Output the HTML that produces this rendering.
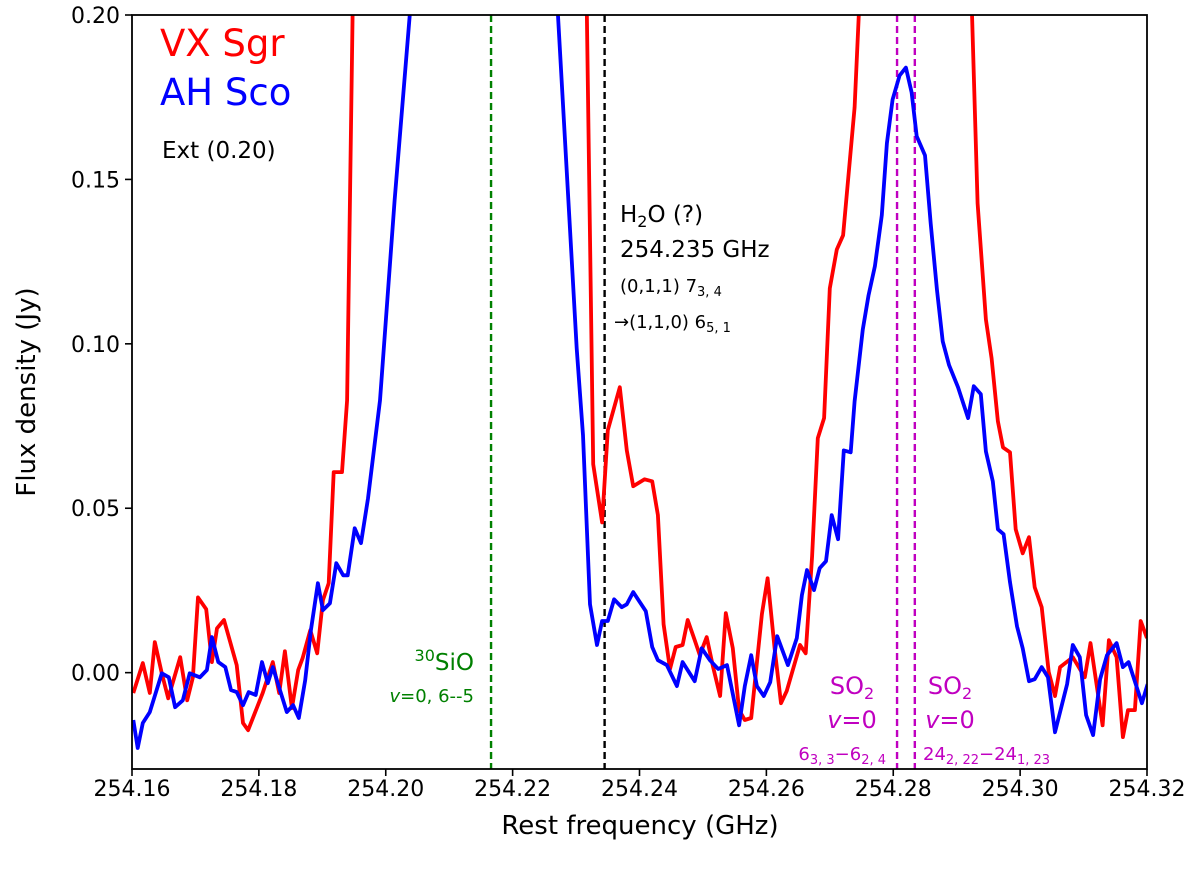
<!DOCTYPE html>
<html><head><meta charset="utf-8"><style>
body{margin:0;background:#fff}
svg{display:block;font-family:"DejaVu Sans","Liberation Sans",sans-serif}
</style></head><body>
<svg id="chart" width="1200" height="869" viewBox="0 0 1200 869" xmlns="http://www.w3.org/2000/svg">
<defs><clipPath id="pc"><rect x="132" y="15" width="1015" height="754"/></clipPath></defs>
<g id="plot" clip-path="url(#pc)"></g>
<rect x="132" y="15" width="1015" height="754" fill="none" stroke="#000" stroke-width="1.8"/>
<g id="axes"></g>
<text x="160" y="56" font-size="37" fill="#ff0000">VX Sgr</text>
<text x="160" y="105" font-size="37" fill="#0000ff">AH Sco</text>
<text x="162" y="158" font-size="23" fill="#000">Ext (0.20)</text>
<g fill="#000">
<text x="620" y="222" font-size="23">H<tspan font-size="16" dy="5">2</tspan><tspan dy="-5">O (?)</tspan></text>
<text x="620" y="257" font-size="23">254.235 GHz</text>
<text x="620" y="292" font-size="18">(0,1,1) 7<tspan font-size="13" dy="4">3, 4</tspan></text>
<text x="614" y="328" font-size="18">→(1,1,0) 6<tspan font-size="13" dy="4">5, 1</tspan></text>
</g>
<g fill="#008000">
<text x="474" y="670" font-size="23" text-anchor="end"><tspan font-size="16" dy="-9">30</tspan><tspan dy="9">SiO</tspan></text>
<text x="474" y="702" font-size="18" text-anchor="end"><tspan font-style="italic">v</tspan>=0, 6--5</text>
</g>
<g fill="#c000c0">
<text x="852" y="694" font-size="24" text-anchor="middle">SO<tspan font-size="16" dy="5">2</tspan></text>
<text x="852" y="728" font-size="24" text-anchor="middle"><tspan font-style="italic">v</tspan>=0</text>
<text x="886" y="760" font-size="18" text-anchor="end">6<tspan font-size="13" dy="4">3, 3</tspan><tspan dy="-4">−6</tspan><tspan font-size="13" dy="4">2, 4</tspan></text>
</g>
<g fill="#c000c0">
<text x="950" y="694" font-size="24" text-anchor="middle">SO<tspan font-size="16" dy="5">2</tspan></text>
<text x="950" y="728" font-size="24" text-anchor="middle"><tspan font-style="italic">v</tspan>=0</text>
<text x="923" y="760" font-size="18">24<tspan font-size="13" dy="4">2, 22</tspan><tspan dy="-4">−24</tspan><tspan font-size="13" dy="4">1, 23</tspan></text>
</g>
<text x="640" y="834" font-size="26" text-anchor="middle">Rest frequency (GHz)</text>
<text transform="translate(35,392) rotate(-90)" font-size="26" text-anchor="middle">Flux density (Jy)</text>
</svg>
<script>
const vxFreq=[254.1602,254.1617,254.1628,254.1636,254.1647,254.1657,254.1676,254.1687,254.1696,254.1704,254.1717,254.1726,254.1734,254.1745,254.1765,254.1775,254.1783,254.1806,254.1822,254.1832,254.1841,254.1852,254.1862,254.1869,254.1881,254.1892,254.1901,254.1910,254.1918,254.1931,254.1939,254.1950,254.2100,254.2317,254.2327,254.2341,254.2350,254.2369,254.2380,254.2390,254.2408,254.2420,254.2429,254.2438,254.2448,254.2457,254.2468,254.2476,254.2487,254.2495,254.2506,254.2516,254.2527,254.2536,254.2547,254.2557,254.2566,254.2576,254.2593,254.2602,254.2613,254.2623,254.2632,254.2653,254.2662,254.2672,254.2681,254.2691,254.2700,254.2711,254.2721,254.2739,254.2746,254.2790,254.2924,254.2933,254.2946,254.2955,254.2965,254.2973,254.2984,254.2993,254.3004,254.3014,254.3023,254.3034,254.3045,254.3055,254.3063,254.3083,254.3102,254.3111,254.3130,254.3140,254.3152,254.3162,254.3170,254.3181,254.3190,254.3200];
const vxFlux=[-0.0062,0.0029,-0.0062,0.0093,-0.0002,-0.0078,0.0047,-0.0084,-0.0014,0.0229,0.0193,0.0032,0.0135,0.0160,0.0023,-0.0153,-0.0175,-0.0062,0.0032,-0.0062,0.0065,-0.0108,0.0008,0.0044,0.0129,0.0059,0.0220,0.0272,0.0610,0.0610,0.0828,0.2300,0.6,0.2014,0.0634,0.0457,0.0737,0.0868,0.0676,0.0567,0.0588,0.0582,0.0479,0.0147,0.0011,0.0078,0.0084,0.0160,0.0099,0.0053,0.0108,0.0017,-0.0071,0.0181,0.0074,-0.0114,-0.0144,-0.0138,0.0178,0.0287,0.0074,-0.0093,-0.0056,0.0084,0.0059,0.0354,0.0713,0.0774,0.1169,0.1287,0.1330,0.1719,0.2014,0.6,0.2014,0.1427,0.1074,0.0956,0.0764,0.0685,0.0670,0.0436,0.0363,0.0412,0.0260,0.0199,0.0002,-0.0071,0.0017,0.0047,-0.0014,0.0090,-0.0160,0.0099,0.0047,-0.0196,-0.0114,-0.0114,0.0157,0.0105];
const ahFreq=[254.1602,254.1609,254.1617,254.1628,254.1647,254.1658,254.1668,254.1680,254.1691,254.1707,254.1718,254.1726,254.1736,254.1747,254.1756,254.1765,254.1775,254.1784,254.1795,254.1805,254.1814,254.1822,254.1844,254.1854,254.1863,254.1873,254.1882,254.1893,254.1901,254.1912,254.1922,254.1933,254.1940,254.1951,254.1961,254.1972,254.1991,254.2014,254.2040,254.2150,254.2271,254.2301,254.2311,254.2322,254.2333,254.2341,254.2350,254.2360,254.2372,254.2380,254.2390,254.2410,254.2420,254.2429,254.2443,254.2459,254.2468,254.2487,254.2498,254.2511,254.2524,254.2538,254.2557,254.2566,254.2576,254.2585,254.2596,254.2606,254.2617,254.2634,254.2648,254.2656,254.2664,254.2675,254.2684,254.2694,254.2703,254.2713,254.2722,254.2733,254.2739,254.2752,254.2761,254.2771,254.2782,254.2790,254.2799,254.2810,254.2820,254.2829,254.2837,254.2850,254.2859,254.2869,254.2878,254.2888,254.2902,254.2918,254.2927,254.2938,254.2946,254.2957,254.2965,254.2974,254.2984,254.2995,254.3004,254.3014,254.3023,254.3034,254.3044,254.3055,254.3074,254.3083,254.3094,254.3104,254.3115,254.3126,254.3137,254.3152,254.3162,254.3171,254.3192,254.3201];
const ahFlux=[-0.0144,-0.0229,-0.0153,-0.0120,-0.0002,-0.0014,-0.0105,-0.0084,-0.0002,-0.0014,0.0008,0.0108,0.0032,0.0017,-0.0053,-0.0059,-0.0099,-0.0059,-0.0068,0.0032,-0.0032,0.0017,-0.0120,-0.0099,-0.0138,-0.0023,0.0129,0.0272,0.0190,0.0211,0.0333,0.0296,0.0296,0.0439,0.0394,0.0530,0.0828,0.1436,0.2050,0.6,0.2014,0.0986,0.0722,0.0208,0.0084,0.0157,0.0157,0.0223,0.0199,0.0208,0.0245,0.0187,0.0078,0.0038,0.0023,-0.0041,0.0032,-0.0026,0.0074,0.0038,0.0011,0.0023,-0.0160,-0.0041,0.0053,-0.0041,-0.0071,-0.0029,0.0111,0.0023,0.0105,0.0236,0.0312,0.0251,0.0318,0.0339,0.0479,0.0406,0.0676,0.0670,0.0825,0.1044,0.1147,0.1236,0.1391,0.1610,0.1743,0.1816,0.1840,0.1765,0.1631,0.1573,0.1366,0.1163,0.1008,0.0935,0.0868,0.0774,0.0871,0.0847,0.0673,0.0582,0.0436,0.0421,0.0275,0.0141,0.0074,-0.0026,-0.0020,0.0017,-0.0014,-0.0181,-0.0035,0.0084,0.0047,-0.0129,-0.0190,-0.0020,0.0053,0.0090,0.0017,0.0032,-0.0093,-0.0035];
const lineFreqs=[254.2166,254.2345,254.2806,254.2834];
const lineColors=["#008000","#000000","#c000c0","#c000c0"];
const xTicks=[254.16,254.18,254.20,254.22,254.24,254.26,254.28,254.30,254.32];
const yTicks=[0.00,0.05,0.10,0.15,0.20];
const X0=132,X1=1147,XMIN=254.16,XMAX=254.32,Y0=769,Y1=15,YMIN=-0.0293,YMAX=0.2;
function xs(v){return X0+(v-XMIN)/(XMAX-XMIN)*(X1-X0);}
function ys(v){return Y0-(v-YMIN)/(YMAX-YMIN)*(Y0-Y1);}
const NS="http://www.w3.org/2000/svg";
const plot=document.getElementById('plot'),axes=document.getElementById('axes');
function mk(t,a,p){const e=document.createElementNS(NS,t);for(const k in a)e.setAttribute(k,a[k]);p.appendChild(e);return e;}
lineFreqs.forEach((f,i)=>{
 const l=mk('line',{x1:xs(f),x2:xs(f),y1:Y1,y2:Y0,stroke:lineColors[i],'stroke-width':2.4,'stroke-dasharray':'7,4'},plot);
 
 
});
function series(fr,fl,col,name){
 const d=fr.map((f,i)=>(i?'L':'M')+xs(f).toFixed(1)+','+ys(fl[i]).toFixed(1)).join('');
 const p=mk('path',{d:d,fill:'none',stroke:col,'stroke-width':3.8,'stroke-linejoin':'round'},plot);
 
 
}
series(vxFreq,vxFlux,'#ff0000','vx-sgr-spectrum');
series(ahFreq,ahFlux,'#0000ff','ah-sco-spectrum');
xTicks.forEach(t=>{
 const x=xs(t);
 mk('line',{x1:x,x2:x,y1:Y0,y2:Y0+7,stroke:'#000','stroke-width':1.6},axes);
 const tx=mk('text',{x:x,y:796,'font-size':22,'text-anchor':'middle'},axes);
 tx.textContent=t.toFixed(2);
 
 
});
yTicks.forEach(t=>{
 const y=ys(t);
 mk('line',{x1:X0-7,x2:X0,y1:y,y2:y,stroke:'#000','stroke-width':1.6},axes);
 const tx=mk('text',{x:X0-12,y:y+8,'font-size':22,'text-anchor':'end'},axes);
 tx.textContent=t.toFixed(2);
 
 
});
</script>
</body></html>
